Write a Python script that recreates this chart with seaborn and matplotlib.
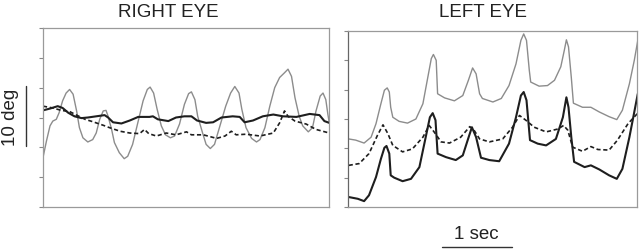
import numpy as np
import pandas as pd
import matplotlib
matplotlib.use("Agg")
import matplotlib.pyplot as plt
import seaborn as sns

# right eye traces (time in s, position in deg)
r_gray_t = [0.00, 0.05, 0.10, 0.14, 0.19, 0.23, 0.28, 0.33, 0.38, 0.43, 0.48, 0.52, 0.57, 0.64, 0.71, 0.76,
            0.81, 0.86, 0.90, 0.93, 0.98, 1.02, 1.09, 1.16, 1.21, 1.28, 1.36, 1.43, 1.49, 1.53, 1.58, 1.63,
            1.69, 1.75, 1.82, 1.88, 1.95, 2.02, 2.08, 2.12, 2.17, 2.21, 2.28, 2.33, 2.39, 2.45, 2.52, 2.61,
            2.68, 2.74, 2.80, 2.84, 2.90, 2.98, 3.05, 3.10, 3.17, 3.24, 3.31, 3.38, 3.45, 3.50, 3.55, 3.60,
            3.66, 3.71, 3.79, 3.85, 3.90, 3.96, 4.00, 4.04, 4.07, 4.09]
r_gray_y = [8.3, 11.1, 13.6, 14.4, 14.7, 15.8, 17.8, 19.1, 19.7, 18.9, 16.1, 13.3, 11.6, 10.9, 11.3, 12.4,
            14.7, 16.1, 16.2, 15.2, 13.0, 10.8, 9.1, 8.1, 8.5, 10.5, 14.4, 17.8, 19.7, 20.1, 19.1, 16.4,
            13.6, 12.1, 11.6, 11.9, 13.9, 17.2, 19.0, 19.3, 18.0, 15.2, 12.4, 10.5, 9.8, 10.5, 13.3, 16.9,
            19.1, 20.2, 19.1, 16.4, 13.3, 11.5, 10.9, 11.3, 13.3, 16.9, 20.0, 21.7, 22.5, 23.1, 21.9, 18.3,
            15.2, 13.6, 12.6, 13.3, 16.1, 18.6, 19.1, 18.0, 15.5, 14.1]

r_solid_t = [0.00, 0.10, 0.21, 0.28, 0.36, 0.45, 0.55, 0.64, 0.76, 0.88, 0.93, 1.00, 1.12, 1.24, 1.36, 1.52,
             1.57, 1.64, 1.79, 1.90, 2.02, 2.12, 2.20, 2.33, 2.43, 2.55, 2.71, 2.81, 2.88, 3.00, 3.14, 3.29,
             3.43, 3.62, 3.81, 3.95, 4.02, 4.09]
r_solid_y = [16.2, 16.5, 16.9, 16.6, 15.8, 15.2, 14.9, 15.0, 15.2, 15.4, 15.0, 14.2, 14.0, 14.5, 15.1, 15.1,
             15.2, 14.7, 14.4, 15.0, 15.2, 15.2, 14.5, 14.1, 14.2, 15.0, 15.2, 15.1, 14.2, 14.5, 15.2, 15.5,
             15.2, 15.1, 15.6, 15.4, 14.4, 14.1]

r_dash_t = [0.00, 0.14, 0.26, 0.38, 0.48, 0.60, 0.71, 0.86, 0.95, 1.10, 1.24, 1.38, 1.45, 1.51, 1.62, 1.76,
            1.90, 2.05, 2.12, 2.29, 2.48, 2.60, 2.69, 2.76, 2.90, 3.10, 3.29, 3.38, 3.45, 3.50, 3.60, 3.76,
            3.90, 4.09]
r_dash_y = [16.9, 16.6, 16.2, 16.0, 15.4, 14.7, 14.3, 13.7, 13.3, 12.7, 12.4, 12.3, 13.0, 12.3, 11.9, 12.4,
            12.1, 12.6, 12.1, 12.1, 11.5, 11.9, 12.7, 12.1, 12.2, 11.9, 12.4, 14.1, 16.1, 15.2, 14.4, 13.9,
            13.0, 12.4]

# left eye traces
l_gray_t = [0.01, 0.11, 0.23, 0.33, 0.40, 0.47, 0.52, 0.56, 0.59, 0.61, 0.64, 0.73, 0.85, 0.97, 1.07, 1.14,
            1.19, 1.22, 1.26, 1.28, 1.38, 1.52, 1.64, 1.72, 1.78, 1.83, 1.88, 1.92, 2.07, 2.19, 2.30, 2.40,
            2.47, 2.51, 2.55, 2.59, 2.61, 2.73, 2.85, 2.95, 3.04, 3.09, 3.12, 3.15, 3.19, 3.22, 3.35, 3.47,
            3.59, 3.73, 3.84, 3.92, 4.02, 4.09, 4.14]
l_gray_y = [11.6, 11.4, 10.9, 11.9, 14.2, 17.6, 19.9, 20.3, 19.6, 17.0, 15.3, 14.6, 14.3, 15.0, 17.6, 22.1,
            25.3, 26.0, 25.0, 19.3, 18.6, 18.1, 19.0, 21.6, 23.7, 22.7, 19.3, 18.5, 17.9, 18.5, 20.7, 24.4,
            28.4, 29.5, 28.4, 23.3, 21.3, 20.6, 20.7, 21.6, 23.9, 26.7, 28.5, 27.3, 22.1, 17.7, 17.0, 17.0,
            16.2, 15.4, 14.9, 16.5, 21.0, 25.0, 28.4]

l_dash_t = [0.01, 0.16, 0.30, 0.42, 0.50, 0.57, 0.64, 0.78, 0.92, 1.07, 1.16, 1.23, 1.33, 1.45, 1.61, 1.74,
            1.80, 1.88, 2.02, 2.21, 2.35, 2.45, 2.54, 2.66, 2.83, 3.00, 3.08, 3.14, 3.21, 3.35, 3.47, 3.57,
            3.73, 3.85, 4.00, 4.14]
l_dash_y = [7.1, 7.4, 9.1, 12.2, 14.0, 12.5, 10.5, 9.4, 9.9, 11.9, 13.9, 12.8, 11.1, 10.9, 11.9, 13.7,
            13.1, 11.6, 11.1, 11.6, 13.6, 15.6, 14.8, 13.6, 12.8, 13.3, 13.9, 13.1, 10.2, 9.5, 10.3, 9.8,
            9.7, 11.4, 14.2, 16.0]

l_solid_t = [0.01, 0.14, 0.23, 0.30, 0.40, 0.47, 0.52, 0.55, 0.59, 0.61, 0.66, 0.78, 0.90, 1.02, 1.11, 1.17,
             1.21, 1.25, 1.28, 1.40, 1.54, 1.64, 1.71, 1.77, 1.83, 1.90, 2.02, 2.16, 2.30, 2.40, 2.47, 2.51,
             2.55, 2.60, 2.71, 2.83, 2.97, 3.07, 3.12, 3.15, 3.19, 3.23, 3.38, 3.47, 3.59, 3.73, 3.84, 3.92,
             4.02, 4.09, 4.14]
l_solid_y = [1.7, 1.4, 1.0, 2.0, 5.1, 8.2, 10.1, 10.4, 9.1, 5.4, 5.0, 4.4, 4.8, 6.8, 11.9, 15.3,
             16.0, 14.8, 9.1, 8.5, 8.0, 8.8, 11.4, 13.6, 11.9, 8.4, 8.0, 7.8, 10.8, 15.3, 19.0, 19.6,
             18.2, 11.4, 10.8, 10.5, 11.6, 15.3, 18.7, 17.0, 11.9, 7.7, 6.8, 7.1, 6.4, 5.4, 4.8, 6.5,
             11.9, 16.2, 19.3]

sns.set_style("white")
plt.rcParams["font.family"] = ["Liberation Sans", "DejaVu Sans"]

fig = plt.figure(figsize=(6.41, 2.51), dpi=100)
ax_r = fig.add_axes([0.0671, 0.1713, 0.4462, 0.7131])
ax_l = fig.add_axes([0.5429, 0.1713, 0.4509, 0.7012])

gray = "#8c8c8c"
dark = "#1e1e1e"


def draw(ax, gt, gy, st, sy, dt, dy):
    sns.lineplot(x=gt, y=gy, ax=ax, color=gray, lw=1.0, sort=False)
    sns.lineplot(x=dt, y=dy, ax=ax, color=dark, lw=1.2, sort=False)
    ax.lines[-1].set_dashes([2.5, 1.6])
    sns.lineplot(x=st, y=sy, ax=ax, color=dark, lw=1.5, sort=False)
    ax.set_ylim(0, 30)
    ax.set_yticks(np.arange(0, 31, 5))
    ax.set_yticklabels([])
    ax.set_xticks([])
    ax.tick_params(axis="y", left=True, length=3, width=0.8, color="#888888", direction="out")
    for s in ax.spines.values():
        s.set_color("#9a9a9a")
        s.set_linewidth(0.9)
    ax.set_xlabel("")
    ax.set_ylabel("")


draw(ax_r, r_gray_t, r_gray_y, r_solid_t, r_solid_y, r_dash_t, r_dash_y)
ax_r.set_xlim(0, 4.086)
draw(ax_l, l_gray_t, l_gray_y, l_solid_t, l_solid_y, l_dash_t, l_dash_y)
ax_l.set_xlim(0, 4.129)
ax_l.spines["left"].set_color("#666666")

ax_r.set_title("RIGHT EYE", fontsize=13.5, color="#222222", pad=8.6, x=0.439)
ax_l.set_title("LEFT EYE", fontsize=13.5, color="#222222", pad=10.8, x=0.467)

# scale bars: 10 deg and 1 sec
ax_r.plot([-0.24, -0.24], [10.2, 20.2], color="#333333", lw=1.0, clip_on=False)
ax_r.text(-0.46, 15.2, "10 deg", rotation=90, ha="center", va="center",
          fontsize=13.5, color="#222222")
ax_l.plot([1.34, 2.34], [-6.8, -6.8], color="#333333", lw=1.0, clip_on=False)
ax_l.text(1.84, -4.5, "1 sec", ha="center", va="center", fontsize=13.5, color="#222222")

fig.savefig("out.png", dpi=100)
